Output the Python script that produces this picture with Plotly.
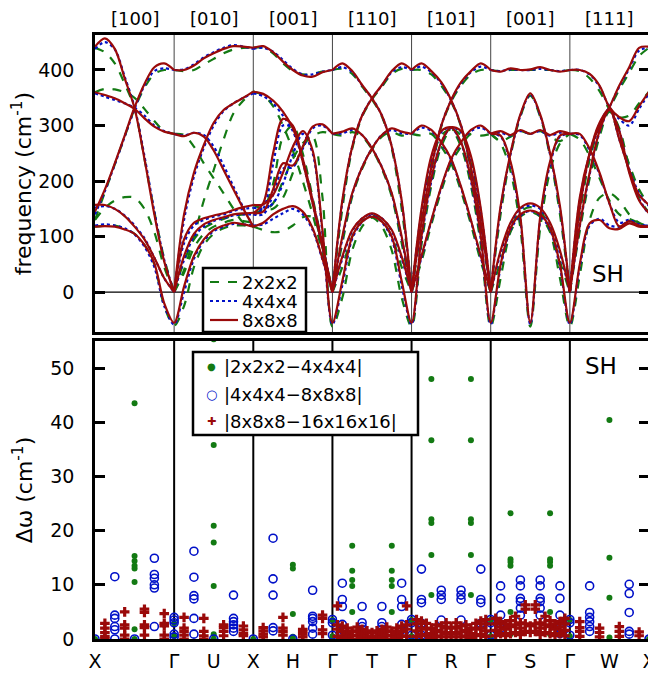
import plotly.graph_objects as go

# ---------------- path / labels ----------------
F = [0, 0.125, 0.25, 0.375, 0.5, 0.625, 0.75, 0.875, 1.0]
DIRECTIONS = ["[100]", "[010]", "[001]", "[110]", "[101]", "[001]", "[111]"]
KPOINT_LABELS = ["X", "Γ", "U", "X", "H", "Γ", "T", "Γ", "R", "Γ", "S", "Γ", "W", "X"]
KPOINT_POS = [0, 1, 1.5, 2, 2.5, 3, 3.5, 4, 4.5, 5, 5.5, 6, 6.5, 7]
BOUNDARIES = [1, 2, 3, 4, 5, 6]

# ---------------- frequencies (cm-1) per segment, sampled at F ----------------
red_seg1 = [[442, 457, 438, 385, 331, 240, 140, 55, 0],
            [145, 185, 232, 282, 333, 375, 405, 412, 400],
            [360, 355, 349, 340, 330, 313, 298, 289, 285],
            [157, 157, 150, 137, 118, 95, 62, 25, 0],
            [118, 119, 118, 113, 105, 85, 52, -20, -55]]
red_seg2 = [[400, 400, 408, 421, 430, 438, 443, 442, 440],
            [285, 281, 287, 280, 255, 220, 185, 150, 118],
            [0, 140, 215, 265, 305, 328, 340, 350, 361],
            [0, 95, 125, 133, 138, 142, 148, 153, 157],
            [0, 65, 105, 122, 130, 135, 140, 142, 143],
            [-55, 10, 65, 95, 112, 120, 125, 122, 118]]
red_seg3 = [[440, 443, 432, 415, 400, 390, 388, 396, 400],
            [361, 357, 345, 325, 295, 240, 165, 85, 0],
            [142, 160, 250, 312, 300, 235, 160, 80, 0],
            [157, 158, 175, 215, 262, 290, 255, 110, -55],
            [118, 125, 140, 150, 155, 145, 115, 60, 0],
            [142, 145, 185, 232, 228, 262, 298, 302, 285]]
red_seg4 = [[400, 412, 398, 373, 349, 318, 262, 165, 0],
            [0, 165, 262, 318, 349, 373, 398, 412, 400],
            [285, 289, 295, 283, 259, 225, 178, 100, 0],
            [0, 100, 178, 225, 259, 283, 295, 289, 285],
            [0, 64, 112, 133, 142, 133, 112, 64, 0],
            [-55, 20, 100, 127, 136, 127, 100, 20, -55]]
red_seg5 = [[400, 412, 398, 378, 346, 300, 225, 125, 0],
            [0, 125, 225, 300, 346, 378, 398, 412, 400],
            [285, 300, 292, 270, 240, 190, 130, 65, 0],
            [0, 65, 130, 190, 240, 270, 292, 300, 285],
            [0, 150, 245, 290, 297, 270, 205, 100, -55],
            [-55, 100, 205, 270, 297, 290, 245, 150, 0]]
red_seg6 = [[400, 397, 403, 400, 401, 405, 400, 397, 400],
            [285, 290, 283, 292, 285, 292, 283, 290, 285],
            [0, 155, 250, 320, 358, 320, 250, 155, 0],
            [285, 282, 235, 135, -55, 135, 235, 282, 285],
            [0, 75, 125, 152, 160, 152, 125, 75, 0],
            [-55, 50, 115, 140, 147, 140, 115, 50, -55]]
red_seg7 = [[400, 400, 393, 372, 333, 315, 308, 335, 361],
            [0, 170, 250, 300, 333, 372, 405, 440, 442],
            [0, 150, 250, 305, 330, 275, 220, 175, 157],
            [0, 120, 215, 290, 328, 290, 215, 165, 142],
            [285, 285, 258, 215, 160, 118, 128, 120, 118],
            [-55, 50, 124, 130, 115, 114, 124, 118, 118]]

blue_seg1 = [[438, 450, 437, 388, 333, 245, 145, 58, 0],
             [140, 182, 230, 280, 330, 372, 398, 403, 400],
             [358, 352, 346, 340, 332, 318, 300, 290, 285],
             [152, 155, 150, 138, 120, 97, 62, 25, 0],
             [120, 122, 120, 115, 104, 82, 45, -25, -58]]
blue_seg2 = [[400, 401, 410, 423, 432, 440, 445, 442, 438],
             [285, 282, 287, 283, 262, 228, 190, 152, 118],
             [0, 130, 208, 260, 300, 326, 340, 350, 358],
             [0, 88, 120, 130, 136, 140, 146, 150, 152],
             [0, 58, 100, 118, 128, 133, 138, 140, 140],
             [-58, 0, 60, 92, 110, 118, 123, 122, 120]]
blue_seg3 = [[438, 440, 433, 418, 402, 392, 392, 397, 400],
             [358, 353, 340, 318, 290, 238, 165, 85, 0],
             [140, 150, 230, 300, 295, 235, 160, 80, 0],
             [152, 150, 160, 195, 248, 285, 250, 105, -58],
             [120, 122, 132, 142, 150, 140, 112, 58, 0],
             [140, 140, 175, 222, 225, 258, 295, 300, 285]]
blue_seg4 = [[400, 405, 396, 372, 349, 318, 262, 162, 0],
             [0, 162, 262, 318, 349, 372, 396, 405, 400],
             [285, 286, 292, 283, 259, 225, 176, 96, 0],
             [0, 96, 176, 225, 259, 283, 292, 286, 285],
             [0, 60, 110, 133, 141, 133, 110, 60, 0],
             [-58, 12, 96, 126, 138, 126, 96, 12, -58]]
blue_seg5 = [[400, 406, 396, 376, 345, 300, 222, 122, 0],
             [0, 122, 222, 300, 345, 376, 396, 406, 400],
             [285, 296, 290, 268, 238, 188, 128, 62, 0],
             [0, 62, 128, 188, 238, 268, 290, 296, 285],
             [0, 145, 240, 288, 296, 268, 200, 95, -58],
             [-58, 95, 200, 268, 296, 288, 240, 145, 0]]
blue_seg6 = [[400, 398, 401, 400, 400, 402, 400, 398, 400],
             [285, 287, 282, 290, 285, 290, 282, 287, 285],
             [0, 150, 248, 318, 356, 318, 248, 150, 0],
             [285, 280, 230, 130, -58, 130, 230, 280, 285],
             [0, 70, 122, 150, 156, 150, 122, 70, 0],
             [-58, 45, 112, 138, 146, 138, 112, 45, -58]]
blue_seg7 = [[400, 400, 392, 370, 333, 312, 300, 330, 358],
             [0, 165, 248, 298, 333, 370, 402, 435, 440],
             [0, 148, 248, 303, 330, 275, 222, 178, 155],
             [0, 118, 212, 288, 328, 290, 218, 168, 140],
             [285, 283, 255, 212, 160, 125, 130, 122, 120],
             [-58, 45, 120, 132, 120, 118, 128, 120, 120]]

green_seg1 = [[440, 432, 412, 375, 331, 240, 145, 60, 0],
              [130, 180, 230, 280, 330, 368, 393, 400, 400],
              [360, 366, 365, 360, 350, 330, 308, 290, 285],
              [130, 152, 165, 171, 170, 150, 108, 45, 0],
              [118, 120, 120, 115, 105, 85, 50, -25, -60]]
green_seg2 = [[400, 398, 400, 410, 420, 430, 437, 440, 440],
              [285, 283, 262, 232, 205, 178, 150, 125, 118],
              [0, 40, 100, 165, 220, 275, 322, 345, 361],
              [0, 55, 95, 115, 125, 132, 138, 140, 143],
              [0, 35, 80, 105, 118, 125, 130, 128, 125],
              [-60, -25, 45, 85, 105, 115, 120, 120, 118]]
green_seg3 = [[440, 440, 430, 412, 398, 392, 393, 397, 400],
              [361, 355, 335, 300, 255, 200, 140, 70, 0],
              [143, 150, 195, 280, 300, 250, 170, 85, 0],
              [157, 150, 150, 170, 215, 262, 280, 170, -62],
              [118, 112, 108, 110, 120, 135, 135, 80, 0],
              [143, 145, 160, 200, 240, 268, 282, 288, 285]]
green_seg4 = [[400, 402, 393, 370, 347, 316, 258, 150, 0],
              [0, 150, 258, 316, 347, 370, 393, 402, 400],
              [285, 282, 288, 280, 257, 222, 172, 88, 0],
              [0, 88, 172, 222, 257, 280, 288, 282, 285],
              [0, 45, 100, 128, 138, 128, 100, 45, 0],
              [-62, -10, 75, 118, 134, 118, 75, -10, -62]]
green_seg5 = [[400, 400, 392, 372, 343, 298, 218, 115, 0],
              [0, 115, 218, 298, 343, 372, 392, 400, 400],
              [285, 282, 285, 262, 232, 182, 122, 55, 0],
              [0, 55, 122, 182, 232, 262, 285, 282, 285],
              [0, 135, 232, 282, 292, 262, 192, 85, -62],
              [-62, 85, 192, 262, 292, 282, 232, 135, 0]]
green_seg6 = [[400, 398, 400, 400, 400, 400, 400, 398, 400],
              [285, 272, 280, 290, 285, 290, 280, 272, 285],
              [0, 140, 245, 316, 354, 316, 245, 140, 0],
              [285, 268, 218, 115, -62, 115, 218, 268, 285],
              [0, 55, 115, 145, 153, 145, 115, 55, 0],
              [-62, 25, 108, 136, 144, 136, 108, 25, -62]]
green_seg7 = [[400, 398, 385, 362, 330, 315, 318, 340, 361],
              [0, 150, 240, 298, 330, 365, 395, 425, 440],
              [0, 140, 240, 300, 325, 280, 230, 185, 157],
              [0, 110, 205, 280, 325, 295, 225, 170, 143],
              [285, 275, 245, 205, 165, 140, 132, 125, 118],
              [-62, 30, 130, 170, 178, 165, 140, 125, 118]]

# ---------------- convergence differences (cm-1): (path position, values) ----------------
green_dw = [(0.0, [0]), (0.5, [43.5, 15.3, 14.4, 13.5, 13.0, 10.5, 1.8, 0]),
            (1.0, [2.9, 0.5]), (1.5, [55.3, 35.8, 20.9, 17.8, 9.8, 0.9, 0]),
            (2.0, [0]), (2.5, [13.7, 13.0, 4.6, 0.4, 0]), (3.0, [3.5, 0.5]),
            (3.25, [17.2, 12.6, 10.9, 9.8, 5.0]), (3.75, [17.2, 12.6, 10.9, 9.8, 5.0]),
            (4.0, [3.5, 0.5]),
            (4.25, [48.0, 36.7, 22.1, 21.4, 15.5, 8.1]), (4.75, [48.0, 36.7, 22.1, 21.4, 15.5, 8.1]),
            (5.0, [3.5, 0.5]),
            (5.25, [23.2, 14.7, 14.2, 13.5, 5.0, 0.9]), (5.75, [23.2, 14.7, 14.2, 13.5, 5.0, 0.9]),
            (6.0, [3.5, 0.5]), (6.5, [40.4, 15.0, 7.6, 0.3]), (7.0, [0])]
blue_dw = [(0.0, [0]), (0.25, [11.5, 4.4, 3.8, 2.3, 1.7, 0]), (0.5, [0]),
           (0.75, [14.9, 11.9, 11.2, 10.0, 9.4, 2.3]), (1.0, [4.0, 3.5, 3.0, 0.9, 0.4]),
           (1.25, [16.2, 11.4, 8.0, 7.4, 3.8, 0.9]), (1.5, [0]),
           (1.75, [8.1, 3.8, 3.2, 2.6, 2.0, 1.4]), (2.0, [0]),
           (2.25, [18.6, 11.1, 8.1, 2.1, 1.5]), (2.5, [0]),
           (2.75, [9.0, 4.2, 3.8, 3.2, 2.0, 0.9]), (3.0, [3.6, 3.0, 0.7]),
           (3.125, [10.3, 7.3, 6.0, 2.7, 1.7]), (3.375, [6.0, 3.0, 2.3, 1.7]),
           (3.625, [6.0, 3.0, 2.3, 1.7]), (3.875, [10.3, 7.3, 6.0, 2.7, 1.7]),
           (4.0, [3.6, 3.0, 0.7]),
           (4.125, [12.9, 7.3, 6.7, 2.9, 0.7]), (4.375, [9.0, 8.1, 7.3, 3.5]),
           (4.625, [9.0, 8.1, 7.3, 3.5]), (4.875, [12.9, 7.3, 6.7, 2.9]),
           (5.0, [3.6, 3.0, 0.7]),
           (5.125, [9.8, 7.5, 4.4, 2.0]), (5.375, [10.9, 9.8, 7.5, 6.9, 5.7, 4.4]),
           (5.625, [10.9, 9.8, 7.5, 6.9, 5.7, 4.4]), (5.875, [9.8, 7.5, 4.4, 2.0, 1.0]),
           (6.0, [3.6, 3.0, 0.7]),
           (6.25, [9.8, 4.9, 4.0, 3.2, 2.3, 1.4]), (6.75, [10.1, 8.4, 4.9, 1.4, 0.9]),
           (7.0, [0])]
red_dw = [(0.125, [2.9, 2.0, 1.2, 0.5, 0]), (0.375, [5.0, 2.6, 2.0, 0.7, 0]),
          (0.625, [5.5, 4.9, 2.6, 2.1, 0.7]), (0.875, [4.7, 2.9, 2.4, 0.7, 0]),
          (1.125, [4.0, 2.0, 1.4, 0.7, 0]), (1.375, [3.8, 1.4, 0.6, 0]),
          (1.625, [2.6, 2.1, 1.4, 0.6]), (1.875, [2.4, 1.7, 1.0, 0.6]),
          (2.125, [2.1, 1.5, 0.9, 0.4]), (2.375, [4.0, 2.0, 1.4, 0.7]),
          (2.625, [1.8, 1.4, 0.9, 0.4]), (2.875, [4.4, 3.8, 1.7, 1.0]),
          (3.0625, [6.1, 2.6, 1.8, 0.5]), (3.125, [2.4, 1.4, 0.6, 0]), (3.1875, [2.0, 1.0, 0.3]),
          (3.25, [1.4, 0.6, 0]), (3.3125, [2.2, 1.5, 0.7]), (3.375, [1.8, 1.0, 0.3]),
          (3.4375, [1.5, 0.6, 0]), (3.5, [1.2, 0.5, 0]), (3.5625, [1.5, 0.6, 0]),
          (3.625, [1.8, 1.0, 0.3]), (3.6875, [2.2, 1.5, 0.7]), (3.75, [1.4, 0.6, 0]),
          (3.8125, [2.0, 1.0, 0.3]), (3.875, [2.4, 1.4, 0.6]), (3.9375, [6.1, 2.6, 1.8, 0.5]),
          (4.0625, [3.6, 2.8, 1.5, 0.5]), (4.125, [3.3, 2.0, 0.8]), (4.1875, [2.9, 1.8, 0.6]),
          (4.25, [2.0, 1.0, 0.3]), (4.3125, [2.6, 1.6, 0.6]), (4.375, [2.4, 1.3, 0.4]),
          (4.4375, [3.0, 2.0, 0.9]), (4.5, [2.2, 1.2, 0.4]), (4.5625, [3.0, 2.0, 0.9]),
          (4.625, [2.4, 1.3, 0.4]), (4.6875, [2.6, 1.6, 0.6]), (4.75, [2.0, 1.0, 0.3]),
          (4.8125, [2.9, 1.8, 0.6]), (4.875, [3.3, 2.0, 0.8]), (4.9375, [3.6, 2.8, 1.5, 0.5]),
          (5.0625, [3.8, 2.8, 1.6, 0.6]), (5.125, [3.2, 2.2, 1.0]), (5.1875, [2.8, 1.8, 0.6]),
          (5.25, [3.4, 2.3, 1.0]), (5.3125, [4.2, 2.6, 1.2]), (5.375, [3.0, 2.0, 0.8]),
          (5.4375, [6.3, 5.5, 2.8, 1.4]), (5.5, [2.4, 1.2]), (5.5625, [6.3, 5.5, 2.8, 1.4]),
          (5.625, [3.0, 2.0, 0.8]), (5.6875, [4.2, 2.6, 1.2]), (5.75, [3.4, 2.3, 1.0]),
          (5.8125, [2.8, 1.8, 0.6]), (5.875, [3.2, 2.2, 1.0]), (5.9375, [3.8, 2.8, 1.6, 0.6]),
          (6.125, [3.2, 2.1, 1.4, 0.5]), (6.375, [2.0, 1.2, 0.4]),
          (6.625, [2.3, 1.4, 0.5]), (6.875, [1.3, 0.6])]

RED = "#9a0a0a"
BLUE = "#0010c8"
GREEN = "#137a13"
FONT = "DejaVu Sans"

# figure geometry (page body has an 8px margin, so the figure is 8px smaller)
W, H = 648, 665
ML, MR, MT, MB = 87, 7, 27, 34
PW, PH = W - ML - MR, H - MT - MB


def px2x(px):  # screen pixel -> paper x
    return (px - 8 - ML) / PW


def py2y(py):  # screen pixel -> paper y
    return (H - MB + 8 - py) / PH


def bands(segs):
    """Chain the per-segment curves; soft (negative) modes are joined across Γ so the dip is smooth."""
    lines = []
    for k, seg in enumerate(segs):
        for curve in seg:
            xs = [k + f for f in F]
            ys = list(curve)
            joined = False
            if ys[0] < 0:
                for ln in lines:
                    if ln[0][-1] == k and ln[1][-1] < 0:
                        ln[0].extend(xs[1:])
                        ln[1].extend(ys[1:])
                        joined = True
                        break
            if not joined:
                lines.append([xs, ys])
    X, Y = [], []
    for xs, ys in lines:
        X += xs + [None]
        Y += ys + [None]
    return X, Y


def points(data):
    xs, ys = [], []
    for x, vals in data:
        for v in vals:
            xs.append(x)
            ys.append(v)
    return xs, ys


fig = go.Figure()

series = [("2x2x2", [green_seg1, green_seg2, green_seg3, green_seg4, green_seg5, green_seg6, green_seg7], GREEN, "dash"),
          ("4x4x4", [blue_seg1, blue_seg2, blue_seg3, blue_seg4, blue_seg5, blue_seg6, blue_seg7], BLUE, "dot"),
          ("8x8x8", [red_seg1, red_seg2, red_seg3, red_seg4, red_seg5, red_seg6, red_seg7], RED, "solid")]
for name, segs, col, dash in series:
    xs, ys = bands(segs)
    fig.add_trace(go.Scatter(x=xs, y=ys, mode="lines", name=name, connectgaps=False, showlegend=False,
                             line=dict(color=col, dash=dash, width=2.2, shape="spline", smoothing=0.9),
                             xaxis="x", yaxis="y"))

gx, gy = points(green_dw)
bx, by = points(blue_dw)
rx, ry = points(red_dw)
fig.add_trace(go.Scatter(x=gx, y=gy, mode="markers", name="|2x2x2\u22124x4x4|", showlegend=False,
                         marker=dict(symbol="circle", size=6, color=GREEN),
                         xaxis="x2", yaxis="y2"))
fig.add_trace(go.Scatter(x=bx, y=by, mode="markers", name="|4x4x4\u22128x8x8|", showlegend=False,
                         marker=dict(symbol="circle-open", size=8, color=BLUE, line=dict(width=1.6)),
                         xaxis="x2", yaxis="y2"))
fig.add_trace(go.Scatter(x=rx, y=ry, mode="markers", name="|8x8x8\u221216x16x16|", showlegend=False,
                         marker=dict(symbol="cross", size=8, color=RED, line=dict(width=0)),
                         xaxis="x2", yaxis="y2"))

shapes = []
for b in BOUNDARIES:
    shapes.append(dict(type="line", xref="x", yref="y domain", x0=b, x1=b, y0=0, y1=1,
                       line=dict(color="#444444", width=1), layer="below"))
    shapes.append(dict(type="line", xref="x2", yref="y2 domain", x0=b, x1=b, y0=0, y1=1,
                       line=dict(color="black", width=2), layer="below"))
shapes.append(dict(type="line", xref="x domain", yref="y", x0=0, x1=1, y0=0, y1=0,
                   line=dict(color="black", width=1.2), layer="below"))

annotations = []
for k, lab in enumerate(DIRECTIONS):
    annotations.append(dict(x=k + 0.5, y=1.0, xref="x", yref="paper", yanchor="bottom", yshift=4,
                            text=lab, showarrow=False, font=dict(family=FONT, size=18, color="black")))
annotations.append(dict(x=px2x(608), y=py2y(274), xref="paper", yref="paper", text="SH", showarrow=False,
                        xanchor="center", yanchor="middle", font=dict(family=FONT, size=23, color="black")))
annotations.append(dict(x=px2x(601), y=py2y(366), xref="paper", yref="paper", text="SH", showarrow=False,
                        xanchor="center", yanchor="middle", font=dict(family=FONT, size=23, color="black")))

# ---- legend boxes (drawn by hand to match the compact reference layout) ----
shapes.append(dict(type="rect", xref="paper", yref="paper", x0=px2x(203), x1=px2x(306),
                   y0=py2y(332), y1=py2y(268), fillcolor="white", line=dict(color="black", width=2.5),
                   layer="above"))
top_legend = [("2x2x2", GREEN, "dash", 282), ("4x4x4", BLUE, "dot", 301), ("8x8x8", RED, "solid", 320)]
for name, col, dash, yy in top_legend:
    shapes.append(dict(type="line", xref="paper", yref="paper", x0=px2x(210), x1=px2x(238),
                       y0=py2y(yy), y1=py2y(yy), line=dict(color=col, width=2.2, dash=dash), layer="above"))
    annotations.append(dict(x=px2x(240), y=py2y(yy), xref="paper", yref="paper", text=name,
                            showarrow=False, xanchor="left", yanchor="middle",
                            font=dict(family=FONT, size=18, color="black")))

shapes.append(dict(type="rect", xref="paper", yref="paper", x0=px2x(193), x1=px2x(418),
                   y0=py2y(435), y1=py2y(352), fillcolor="white", line=dict(color="black", width=2.5),
                   layer="above"))
bot_legend = [("|2x2x2\u22124x4x4|", "\u25cf", GREEN, 10, 366),
              ("|4x4x4\u22128x8x8|", "\u25cb", BLUE, 13, 394),
              ("|8x8x8\u221216x16x16|", "\u271a", RED, 11, 421)]
for name, sym, col, ssz, yy in bot_legend:
    annotations.append(dict(x=px2x(211), y=py2y(yy), xref="paper", yref="paper", text=sym,
                            showarrow=False, xanchor="center", yanchor="middle",
                            font=dict(family=FONT, size=ssz, color=col)))
    annotations.append(dict(x=px2x(222), y=py2y(yy), xref="paper", yref="paper", text=name,
                            showarrow=False, xanchor="left", yanchor="middle",
                            font=dict(family=FONT, size=18, color="black")))

axis_common = dict(showline=True, linewidth=2.5, linecolor="black", showgrid=False,
                   zeroline=False, automargin=False)

fig.update_layout(
    width=W, height=H,
    margin=dict(l=ML, r=MR, t=MT, b=MB),
    paper_bgcolor="white", plot_bgcolor="white",
    font=dict(family=FONT, size=18, color="black"),
    showlegend=False,
    shapes=shapes, annotations=annotations,
    xaxis=dict(domain=[0, 1], range=[0, 7], anchor="y", showticklabels=False, ticks="",
               mirror=True, **axis_common),
    yaxis=dict(domain=[0.508, 1], range=[-72, 463], anchor="x", tickvals=[0, 100, 200, 300, 400],
               ticks="inside", ticklen=10, tickwidth=2.5, tickcolor="black",
               ticklabelstandoff=14, tickfont=dict(size=19),
               title=dict(text="frequency (cm<sup>-1</sup>)", font=dict(size=22), standoff=12),
               mirror="allticks", **axis_common),
    xaxis2=dict(domain=[0, 1], range=[0, 7], anchor="y2", tickvals=KPOINT_POS, ticktext=KPOINT_LABELS,
                ticks="", ticklabelstandoff=3, tickfont=dict(size=19), mirror=True, **axis_common),
    yaxis2=dict(domain=[0, 0.4934], range=[0, 55], anchor="x2", tickvals=[0, 10, 20, 30, 40, 50],
                ticks="inside", ticklen=10, tickwidth=2.5, tickcolor="black",
                ticklabelstandoff=14, tickfont=dict(size=19),
                title=dict(text="\u0394\u03c9 (cm<sup>-1</sup>)", font=dict(size=22), standoff=12),
                mirror="allticks", **axis_common),
)

fig.write_html("out.html")
